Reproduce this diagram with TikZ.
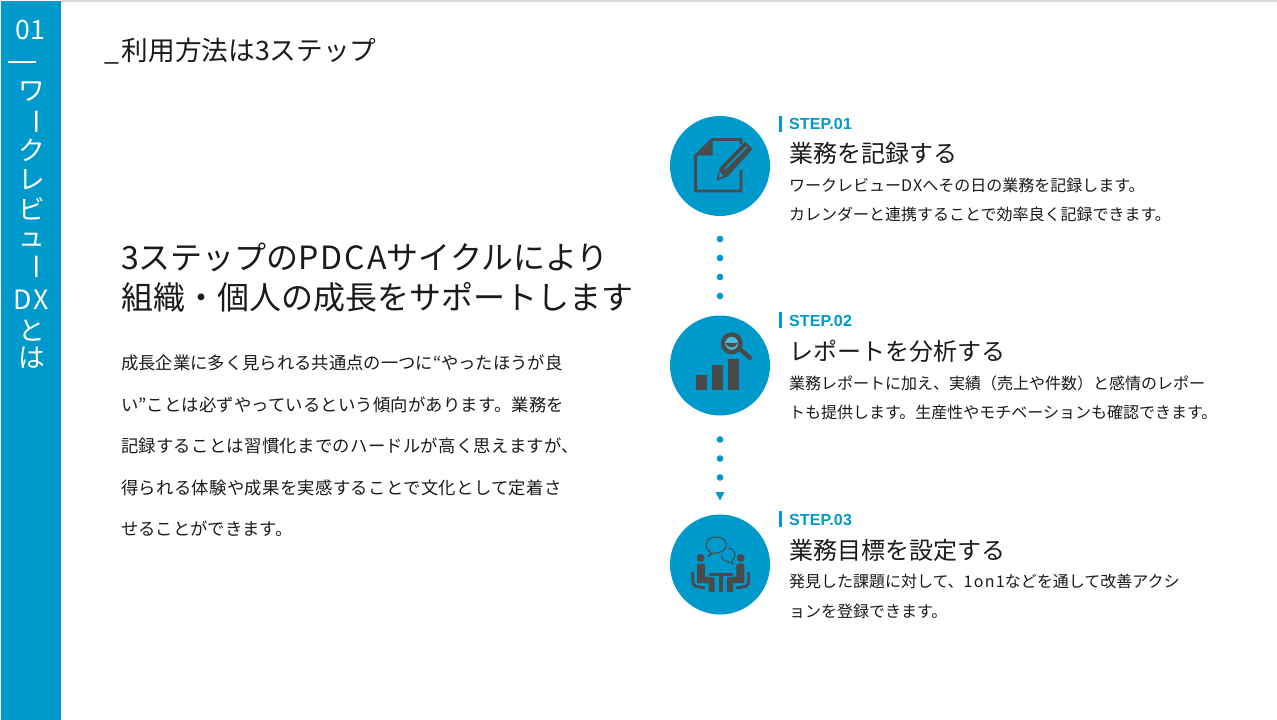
\documentclass[tikz,border=0pt]{standalone}
\usepackage{fontspec}
\setmainfont{Noto Sans CJK JP}
\setsansfont{Liberation Sans}
\usetikzlibrary{arrows.meta}
\definecolor{brand}{HTML}{0099CC}
\definecolor{icondark}{HTML}{4A4A4A}
\definecolor{inkblack}{HTML}{1A1A1A}
\newcommand{\lsp}[2]{{\addfontfeature{LetterSpace=#1}#2}}
\tikzset{
  txt/.style={anchor=base west,inner sep=0pt,outer sep=0pt,text=inkblack},
  titletxt/.style={txt,font=\fontsize{20pt}{24pt}\selectfont},
  headtxt/.style={txt,font=\fontsize{24pt}{28pt}\selectfont},
  bodytxt/.style={txt,font=\fontsize{13pt}{16pt}\selectfont},
  steptitle/.style={txt,font=\fontsize{18pt}{22pt}\selectfont},
  stepdesc/.style={txt,font=\fontsize{12pt}{15pt}\selectfont},
  steplabel/.style={txt,text=brand,font=\fontsize{12pt}{15pt}\selectfont\bfseries\sffamily},
  sidetxt/.style={anchor=center,inner sep=0pt,outer sep=0pt,text=white,font=\fontsize{20pt}{24pt}\selectfont},
  stepcircle/.style={circle,fill=brand,minimum size=75pt,inner sep=0pt,outer sep=0pt},
  stepbar/.style={fill=brand,draw=none},
  dotline/.style={draw=brand,line width=5pt,line cap=round,dash pattern=on 0pt off 14.25pt},
  iconfill/.style={fill=icondark,draw=none},
  iconline/.style={draw=icondark,line join=miter},
}
\begin{document}
\begin{tikzpicture}[x=0.75pt,y=-0.75pt]
\useasboundingbox (0,0) rectangle (1277,720);
\fill[white] (0,0) rectangle (1277,720);
\fill[black!15] (61,0) rectangle (1277,1.6);
\fill[brand] (1,1) rectangle (61,720);

% sidebar
\node[sidetxt] (s01) at (30,30) {01};
\draw[white,line width=1.3pt] (8,62) -- (36,62);
\node[sidetxt] (s1) at (32,92) {ワ};
\node[sidetxt,rotate=-90] (s2) at (32,122) {ー};
\node[sidetxt] (s3) at (32,150) {ク};
\node[sidetxt] (s4) at (32,180) {レ};
\node[sidetxt] (s5) at (32,209) {ビ};
\node[sidetxt] (s6) at (32,240) {ュ};
\node[sidetxt,rotate=-90] (s7) at (32,267) {ー};
\node[sidetxt] (s8) at (31.5,300) {\lsp{8}{DX}};
\node[sidetxt] (s9) at (32,330) {と};
\node[sidetxt] (s10) at (32,358) {は};

% title and main text
\node[titletxt] (title) at (104,61) {\_\hspace{2.2pt}利用方法は3ステップ};
\node[headtxt] (h1) at (121,269) {3ステップの\lsp{6}{PDCA}サイクルにより};
\node[headtxt] (h2) at (121,309) {組織・個人の成長をサポートします};
\node[bodytxt] (b1) at (121,369) {成長企業に多く見られる共通点の一つに“やったほうが良};
\node[bodytxt] (b2) at (121,411) {\lsp{0.9}{い”ことは必ずやっているという傾向があります。業務を}};
\node[bodytxt] (b3) at (121,452) {\lsp{1.8}{記録することは習慣化までのハードルが高く思えますが、}};
\node[bodytxt] (b4) at (121,494) {\lsp{2}{得られる体験や成果を実感することで文化として定着さ}};
\node[bodytxt] (b5) at (121,535) {せることができます。};

% circles
\node[stepcircle] (c1) at (720,166) {};
\node[stepcircle] (c2) at (720,365.5) {};
\node[stepcircle] (c3) at (720,564.5) {};

% connectors
\draw[dotline,shorten <=17.25pt,shorten >=14pt] (c1.south) -- (c2.north);
\draw[dotline,shorten <=18pt,shorten >=21pt] (c2.south) -- (c3.north);
\coordinate (tipanchor) at (720,492);
\fill[brand] (tipanchor) ++(-4.5,0) -- ++(9,0) -- ++(-4.5,8.5) -- cycle;

% step 1
\fill[stepbar] (779,116) rectangle (782,132);
\node[steplabel] (l1) at (789,130) {\lsp{1}{STEP.01}};
\node[steptitle] (t1) at (789,163) {業務を記録する};
\node[stepdesc] (d1a) at (789,192) {ワークレビュー\lsp{9}{DX}へその日の業務を記録します。};
\node[stepdesc] (d1b) at (789,221) {カレンダーと連携することで効率良く記録できます。};
% step 2
\fill[stepbar] (779,312) rectangle (782,328);
\node[steplabel] (l2) at (789,326) {\lsp{1}{STEP.02}};
\node[steptitle] (t2) at (789,360) {レポートを分析する};
\node[stepdesc] (d2a) at (789,389) {業務レポートに加え、実績（売上や件数）と感情のレポー};
\node[stepdesc] (d2b) at (789,418) {トも提供します。生産性やモチベーションも確認できます。};
% step 3
\fill[stepbar] (779,511) rectangle (782,527);
\node[steplabel] (l3) at (789,525) {\lsp{1}{STEP.03}};
\node[steptitle] (t3) at (789,559) {業務目標を設定する};
\node[stepdesc] (d3a) at (789,587) {発見した課題に対して、\lsp{8}{1on1}などを通して改善アクシ};
\node[stepdesc] (d3b) at (789,617) {ョンを登録できます。};

% icon 1
\draw[iconline,line width=2.2pt] (741,170) -- (741,191) -- (695.5,191) -- (695.5,156) -- (712.5,139.5) -- (741,139.5) -- (741,144);
\fill[icondark] (698,155.5) -- (712.5,142) -- (712.5,155.5) -- cycle;
\fill[brand] (712,182) -- (747,138) -- (758,150) -- (728,184) -- cycle;
\fill[icondark] (720,167.5) -- (745,141.5) -- (752.5,149) -- (727.5,176.5) -- (716.5,180.5) -- cycle;
\draw[brand,line width=1.3pt] (725,169) -- (746.5,147);
\fill[brand] (719.5,171.5) -- (723.5,176) -- (719,177.5) -- cycle;

% icon 2
\fill[iconfill] (696,374.5) rectangle (706.7,390);
\fill[iconfill] (712,365) rectangle (722.7,390);
\fill[iconfill] (728,358.5) rectangle (738.7,390);
\draw[iconline,line width=3.2pt,line cap=round] (741,350) -- (750,358);
\draw[iconline,line width=3.2pt,fill=brand!70!white] (731.7,343.3) circle[radius=6.6pt];
\fill[icondark] (725.5,343) .. controls (728,349) and (735,349) .. (737.8,343) -- cycle;

% icon 3
\draw[icondark,line width=0.8pt,line join=round] (711,552.5) .. controls (703,548) and (705,537) .. (716,537) .. controls (727,537) and (729,547) .. (722,551.5) .. controls (719,553) and (715,553.5) .. (712.5,553) -- (708,556.5) -- cycle;
\draw[icondark,line width=0.8pt,line join=round] (727,548.5) .. controls (732,548) and (735,551) .. (735,555) .. controls (735,557) and (734,559) .. (732,560) -- (733,564) -- (727.5,561.5) .. controls (724,561.5) and (722,559) .. (721.5,555.5);
\fill[icondark] (700.7,558) circle[radius=3pt];
\fill[icondark] (740.7,558) circle[radius=3pt];
\fill[icondark] (697,566) .. controls (697,564) and (698,563.5) .. (699.5,563.5) -- (702.5,563.5) .. controls (704,563.5) and (705,564.5) .. (705,566) -- (705,576.5) -- (714.5,577.5) -- (714.5,592) -- (708.5,592) -- (708.5,583) -- (697,583) -- cycle;
\fill[icondark] (744.4,566) .. controls (744.4,564) and (743.4,563.5) .. (741.9,563.5) -- (738.9,563.5) .. controls (737.4,563.5) and (736.4,564.5) .. (736.4,566) -- (736.4,576.5) -- (726.9,577.5) -- (726.9,592) -- (732.9,592) -- (732.9,583) -- (744.4,583) -- cycle;
\draw[iconline,line width=2.1pt] (692.7,572) -- (692.7,581) .. controls (692.7,586) and (696,587.5) .. (705,587.5);
\draw[iconline,line width=2.1pt] (748.7,572) -- (748.7,581) .. controls (748.7,586) and (745.4,587.5) .. (736.4,587.5);
\fill[iconfill] (709,572.7) rectangle (733,576);
\fill[iconfill] (719,576) rectangle (723,592);
\end{tikzpicture}
\end{document}
